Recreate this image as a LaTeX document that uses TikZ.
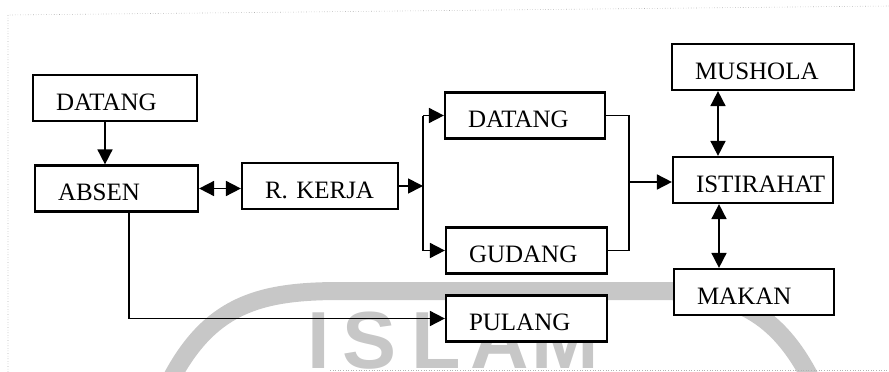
\documentclass[tikz,border=0pt]{standalone}
\usepackage{fontspec}
\setmainfont{Liberation Serif}
\newfontfamily\wmfont{Liberation Sans}
\usetikzlibrary{arrows.meta}
\uchyph=0
\newcommand{\boxfont}{\fontsize{25}{30}\selectfont}
\tikzset{
  box/.style={draw, fill=white, line width=2.2pt, inner xsep=0pt, inner ysep=0pt,
    minimum height=46pt, align=left, font=\boxfont, text height=24.5pt, text depth=0pt,
    execute at begin node={\hspace*{23pt}}},
  conn/.style={line width=1.7pt},
  tip/.tip={Triangle[length=15pt,width=15pt]},
  wm/.style={anchor=base west, text=black!22, font=\wmfont\bfseries\fontsize{81}{90}\selectfont, inner sep=0pt},
  wmring/.style={draw=black!22, line width=18pt},
  frame/.style={draw=black!30, dotted, line width=0.6pt}
}
\begin{document}
\begin{tikzpicture}[x=1pt,y=-1pt]
\useasboundingbox (0,0) rectangle (889,372);
% watermark
\begin{scope}
\clip (0,0) rectangle (889,372);
\draw[wmring] (168,385) .. controls (208,305) and (258,291) .. (340,291) -- (660,291) .. controls (742,291) and (782,320) .. (814,385);
\node[wm] (wI) at (307,368) {I};
\node[wm] (wS) at (342,368) {S};
\node[wm] (wL) at (411,368) {L};
\node[wm] (wA) at (470,368) {A};
\node[wm] (wM) at (531,368) {M};
\end{scope}
% frame
\draw[frame] (8,372) -- (8,15) -- (889,6);
\draw[frame] (330,370) -- (889,370);
% boxes
\node[box, text width=164pt] (d1) at (115,98) {DATANG};
\node[box, text width=163pt] (absen) at (116.5,188.5) {ABSEN};
\node[box, text width=156pt] (rkerja) at (320,186) {R. KERJA};
\node[box, text width=160pt] (d2) at (525,115.5) {DATANG};
\node[box, text width=161pt] (gudang) at (526.5,250.5) {GUDANG};
\node[box, text width=161pt] (pulang) at (526.5,318.5) {PULANG};
\node[box, text width=182pt] (mushola) at (763,67) {MUSHOLA};
\node[box, text width=160pt] (istirahat) at (753,180) {ISTIRAHAT};
\node[box, text width=160pt] (makan) at (754,292) {MAKAN};
% helper coordinates
\coordinate (dx) at (105,0);
\coordinate (ap) at (129,0);
\coordinate (sp) at (423,0);
\coordinate (mg) at (629,0);
\coordinate (mi) at (718,0);
\coordinate (mk) at (719,0);
\coordinate (my) at (0,182);
% connectors
\draw[conn, -tip] (d1.south -| dx) -- (absen.north -| dx);
\draw[conn, tip-tip] (absen.east) -- (rkerja.west |- absen.east);
\draw[conn, -tip] (rkerja.east) -- (rkerja.east -| sp);
\draw[conn] (d2.west -| sp) -- (gudang.west -| sp);
\draw[conn, -tip] (d2.west -| sp) -- (d2.west);
\draw[conn, -tip] (gudang.west -| sp) -- (gudang.west);
\draw[conn, -tip] (absen.south -| ap) |- (pulang.west);
\draw[conn] (d2.east) -| (mg |- gudang.east) -- (gudang.east);
\draw[conn, -tip] (mg |- my) -- (istirahat.west |- my);
\draw[conn, tip-tip] (mushola.south -| mi) -- (istirahat.north -| mi);
\draw[conn, tip-tip] (istirahat.south -| mk) -- (makan.north -| mk);
\end{tikzpicture}
\end{document}
